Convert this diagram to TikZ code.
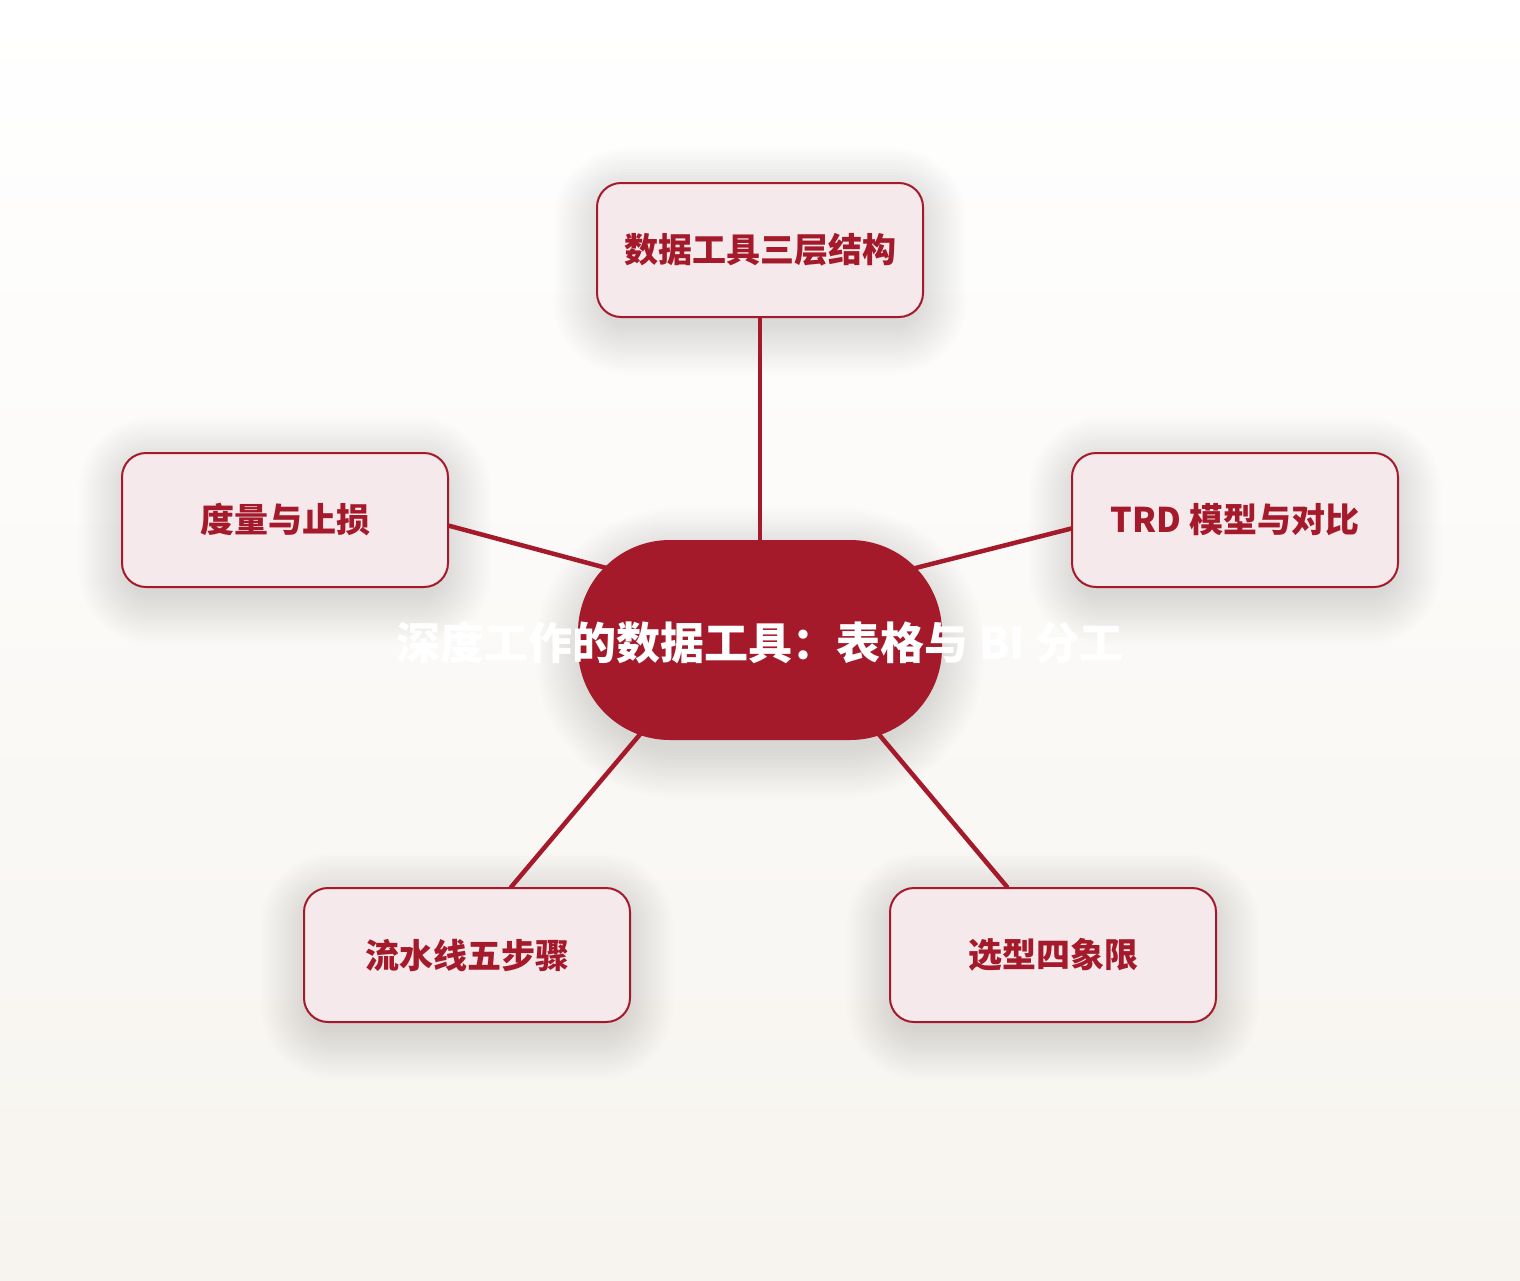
\documentclass[tikz,border=0pt]{standalone}
\usepackage{fontspec}
\setmainfont{Noto Sans CJK SC}
\usepackage{tikz}
\usetikzlibrary{calc}
\definecolor{hubred}{HTML}{A51A2A}
\definecolor{boxfill}{HTML}{F5E9EC}
\definecolor{bgtop}{HTML}{FFFFFF}
\definecolor{bgbot}{HTML}{F7F4EF}
\pgfdeclarelayer{bg}
\pgfdeclarelayer{shade}
\pgfdeclarelayer{edges}
\pgfsetlayers{bg,shade,edges,main}

\begin{document}
\begin{tikzpicture}[x=1pt,y=-1pt,
      topic/.style={draw=hubred,line width=2pt,fill=boxfill,rounded corners=24pt,
          minimum width=326pt,minimum height=134pt,inner sep=0pt,
          font=\fontsize{34}{36}\selectfont\bfseries,text=hubred},
      hub/.style={fill=hubred,rounded corners=92pt,minimum width=364pt,
          minimum height=200pt,inner sep=0pt},
      link/.style={draw=hubred,line width=4.5pt,line cap=round},
      haze/.style={fill=black,opacity=0.0065}]
      \begin{pgfonlayer}{bg}
        \fill[top color=bgtop,bottom color=bgbot] (0,0) rectangle (1520,1280);
      \end{pgfonlayer}
      \useasboundingbox (0,0) rectangle (1520,1280);

      \node[hub] (hub) at (760,640) {};
      \node[text=white,font=\fontsize{44}{48}\selectfont\bfseries] (hubtext)
        at (760,643) {深度工作的数据工具：表格与 BI 分工};

      \node[topic] (t1) at (760,250) {数据工具三层结构};
      \node[topic] (t2) at (1235,520) {TRD 模型与对比};
      \node[topic] (t3) at (1053,955) {选型四象限};
      \node[topic] (t4) at (467,955) {流水线五步骤};
      \node[topic] (t5) at (285,520) {度量与止损};

      % soft shadows
      \begin{pgfonlayer}{shade}
      \foreach \k in {0,...,16} {
        \pgfmathsetmacro\rr{24+3*\k}
        \foreach \n in {t1,t2,t3,t4,t5}
          \fill[haze,rounded corners=\rr pt]
            ($(\n.south west)+(-3*\k+6,3*\k+8)$) rectangle ($(\n.north east)+(3*\k-6,-3*\k+14)$);
        \pgfmathsetmacro\hr{92+3*\k}
        \fill[haze,opacity=0.009,rounded corners=\hr pt]
          ($(hub.south west)+(-3*\k+6,3*\k+10)$) rectangle ($(hub.north east)+(3*\k-6,-3*\k+16)$);
      }
      \end{pgfonlayer}

      \begin{pgfonlayer}{edges}
      \path[link]
      (t1.south) edge ($(hub.center)+(0,-40)$)
      (t2.183)   edge ($(hub.center)+(120,-63)$)
      (t3.124)   edge ($(hub.center)+(90,60)$)
      (t4.57)    edge ($(hub.center)+(-91,60)$)
      (t5.-2)    edge ($(hub.center)+(-120,-63)$)
      ;
      \end{pgfonlayer}
      \end{tikzpicture}
\end{document}
